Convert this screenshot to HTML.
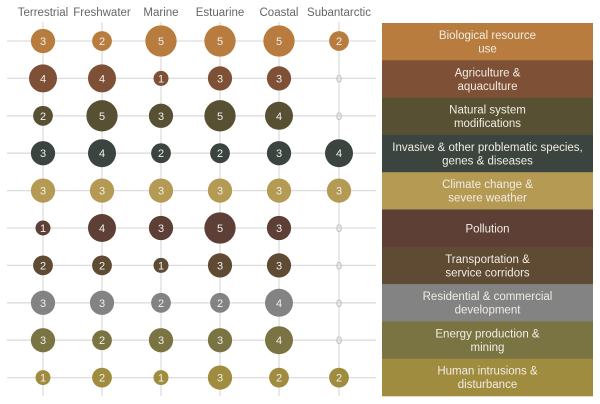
<!DOCTYPE html>
<html><head><meta charset="utf-8"><style>
html,body{margin:0;padding:0;background:#fff;}
svg{display:block;font-family:"Liberation Sans",sans-serif;}
</style></head><body>
<svg width="600" height="404" viewBox="0 0 600 404" xmlns="http://www.w3.org/2000/svg">
<g id="grid"></g>
<g id="heads" font-size="11.5" fill="#666" text-anchor="middle">
<text x="43" y="16">Terrestrial</text>
<text x="102" y="16">Freshwater</text>
<text x="161" y="16">Marine</text>
<text x="220" y="16">Estuarine</text>
<text x="279" y="16">Coastal</text>
<text x="339" y="16">Subantarctic</text>
</g>
<g id="dots"></g>
<g id="leg"></g>
<script>
var cols=[43,102,161,220,279,339];
var ys=[];for(var i=0;i<10;i++)ys.push(41+i*37.4);
var colors=["#B87D3E","#7E5035","#575033","#3B443F","#B59A53","#5E3F36","#5F4A33","#838383","#7A7443","#A08C3E"];
var data=[[3,2,5,5,5,2],[4,4,1,3,3,0],[2,5,3,5,4,0],[3,4,2,2,3,4],[3,3,3,3,3,3],[1,4,3,5,3,0],[2,2,1,3,3,0],[3,3,2,2,4,0],[3,2,3,3,4,0],[1,2,1,3,2,2]];
var labels=[["Biological resource","use"],["Agriculture &","aquaculture"],["Natural system","modifications"],["Invasive & other problematic species,","genes & diseases"],["Climate change &","severe weather"],["Pollution"],["Transportation &","service corridors"],["Residential & commercial","development"],["Energy production &","mining"],["Human intrusions &","disturbance"]];
var ns="http://www.w3.org/2000/svg";
function el(p,t,a,txt){var e=document.createElementNS(ns,t);for(var k in a)e.setAttribute(k,a[k]);if(txt!=null)e.textContent=txt;p.appendChild(e);return e;}
var g=document.getElementById("grid"),d=document.getElementById("dots"),L=document.getElementById("leg");
ys.forEach(function(y){el(g,"line",{x1:7,x2:376,y1:y,y2:y,stroke:"#ddd","stroke-width":1.3});});
cols.forEach(function(x){el(g,"line",{x1:x,x2:x,y1:22,y2:396,stroke:"#ddd","stroke-width":1.3});});
data.forEach(function(r,i){r.forEach(function(v,j){var x=cols[j],y=ys[i];
 if(v>0){var rr=v==1?7.5:7*Math.sqrt(v);el(d,"circle",{cx:x,cy:y,r:rr,fill:colors[i]});
 el(d,"text",{x:x,y:y+4,"font-size":11,"text-anchor":"middle",fill:"#eee"},String(v));}
 else el(d,"text",{x:x,y:y+4,"font-size":11,"text-anchor":"middle",fill:"#b8b8b8"},"0");
});});
for(var i=0;i<10;i++){var t=23+i*37.3;el(L,"rect",{x:382,y:t,width:211,height:37.6,fill:colors[i]});
 var lb=labels[i];if(lb.length==1)el(L,"text",{x:487.5,y:t+23,"font-size":11.5,"text-anchor":"middle",fill:"#f0ece4"},lb[0]);
 else{el(L,"text",{x:487.5,y:t+16,"font-size":11.5,"text-anchor":"middle",fill:"#f0ece4"},lb[0]);el(L,"text",{x:487.5,y:t+29.5,"font-size":11.5,"text-anchor":"middle",fill:"#f0ece4"},lb[1]);}}
</script>
</svg>
</body></html>
